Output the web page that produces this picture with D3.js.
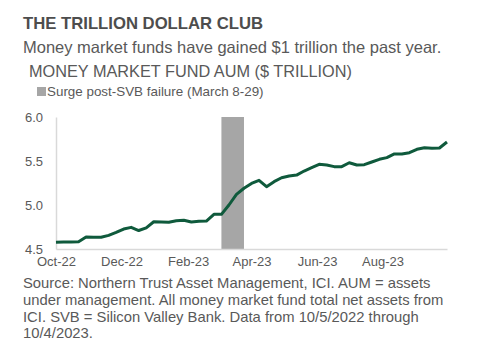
<!DOCTYPE html>
<html>
<head>
<meta charset="utf-8">
<script src="https://cdn.jsdelivr.net/npm/d3@7"></script>
<style>
  body { margin: 0; background: #fff; }
  text { font-family: "Liberation Sans", Arial, sans-serif; }
</style>
</head>
<body>
<script>
// weekly AUM, $ trillion, starting 10/5/2022
var startDate = "2022-10-05";
var aum = [4.576, 4.58, 4.58, 4.583, 4.636, 4.633, 4.633, 4.655, 4.688, 4.727,
           4.746, 4.71, 4.74, 4.81, 4.807, 4.803, 4.82, 4.826, 4.807, 4.815,
           4.818, 4.894, 4.894, 5.0, 5.12, 5.19, 5.245, 5.28, 5.208, 5.265,
           5.31, 5.33, 5.34, 5.386, 5.424, 5.462, 5.455, 5.436, 5.436, 5.48,
           5.455, 5.458, 5.489, 5.519, 5.538, 5.58, 5.58, 5.594, 5.633, 5.651,
           5.644, 5.648, 5.716];
var surge = ["2023-03-08", "2023-03-29"];
var xTicks = ["2022-10-05", "2022-12-05", "2023-02-05", "2023-04-05", "2023-06-05", "2023-08-05"];
var yTicks = [4.5, 5.0, 5.5, 6.0];
var sourceLines = [
  "Source: Northern Trust Asset Management, ICI. AUM = assets",
  "under management. All money market fund total net assets from",
  "ICI. SVB = Silicon Valley Bank. Data from 10/5/2022 through",
  "10/4/2023."
];

var parse = d3.timeParse("%Y-%m-%d");
var t0 = parse(startDate);
var data = aum.map(function (v, i) { return { date: d3.timeDay.offset(t0, 7 * i), value: v }; });

var width = 495, height = 352;
var margin = { top: 117, right: 48, bottom: 103, left: 56 };

var svg = d3.select("body").append("svg")
    .attr("width", width)
    .attr("height", height);

// titles
svg.append("text").attr("x", 23).attr("y", 29)
    .style("font-size", "16.7px").style("font-weight", "bold").style("fill", "#4d4d4d")
    .text("THE TRILLION DOLLAR CLUB");
svg.append("text").attr("x", 23).attr("y", 53)
    .style("font-size", "16.5px").style("fill", "#595959")
    .text("Money market funds have gained $1 trillion the past year.");
svg.append("text").attr("x", 29).attr("y", 77)
    .style("font-size", "16.3px").style("fill", "#595959")
    .text("MONEY MARKET FUND AUM ($ TRILLION)");

// legend
svg.append("rect").attr("x", 37).attr("y", 87).attr("width", 9).attr("height", 9)
    .style("fill", "#a6a6a6");
svg.append("text").attr("x", 47).attr("y", 96)
    .style("font-size", "13.4px").style("fill", "#595959")
    .text("Surge post-SVB failure (March 8-29)");

var g = svg.append("g")
    .attr("transform", "translate(" + margin.left + "," + margin.top + ")");
var w = width - margin.left - margin.right;
var h = height - margin.top - margin.bottom;

var x = d3.scaleTime()
    .domain(d3.extent(data, function (d) { return d.date; }))
    .range([0, w]);
var y = d3.scaleLinear()
    .domain([4.5, 6.0])
    .range([h, 0]);

// shaded band
g.append("rect")
    .attr("x", x(parse(surge[0])))
    .attr("y", y(6.0))
    .attr("width", x(parse(surge[1])) - x(parse(surge[0])))
    .attr("height", y(4.5) - y(6.0))
    .style("fill", "#a6a6a6");

// axes
var xAxis = g.append("g")
    .attr("transform", "translate(0," + h + ")")
    .call(d3.axisBottom(x)
        .tickValues(xTicks.map(parse))
        .tickFormat(d3.timeFormat("%b-%y"))
        .tickSize(0)
        .tickPadding(8));
var yAxis = g.append("g")
    .call(d3.axisLeft(y)
        .tickValues(yTicks)
        .tickFormat(d3.format(".1f"))
        .tickSize(0)
        .tickPadding(13));

[xAxis, yAxis].forEach(function (a) {
    a.select(".domain").attr("stroke", "#d9d9d9").attr("stroke-width", 1.5);
    a.selectAll("text")
        .style("font-family", "'Liberation Sans', Arial, sans-serif")
        .style("font-size", "13px")
        .style("fill", "#595959");
});

// line
g.append("path")
    .datum(data)
    .attr("fill", "none")
    .attr("stroke", "#0f5a3c")
    .attr("stroke-width", 3)
    .attr("stroke-linejoin", "round")
    .attr("d", d3.line()
        .x(function (d) { return x(d.date); })
        .y(function (d) { return y(d.value); }));

// source
svg.append("text")
    .attr("x", 23).attr("y", 288)
    .style("font-size", "14.8px").style("fill", "#595959")
    .selectAll("tspan")
    .data(sourceLines)
    .enter().append("tspan")
    .attr("x", 23)
    .attr("dy", function (d, i) { return i === 0 ? 0 : 16.8; })
    .text(function (d) { return d; });
</script>
</body>
</html>
